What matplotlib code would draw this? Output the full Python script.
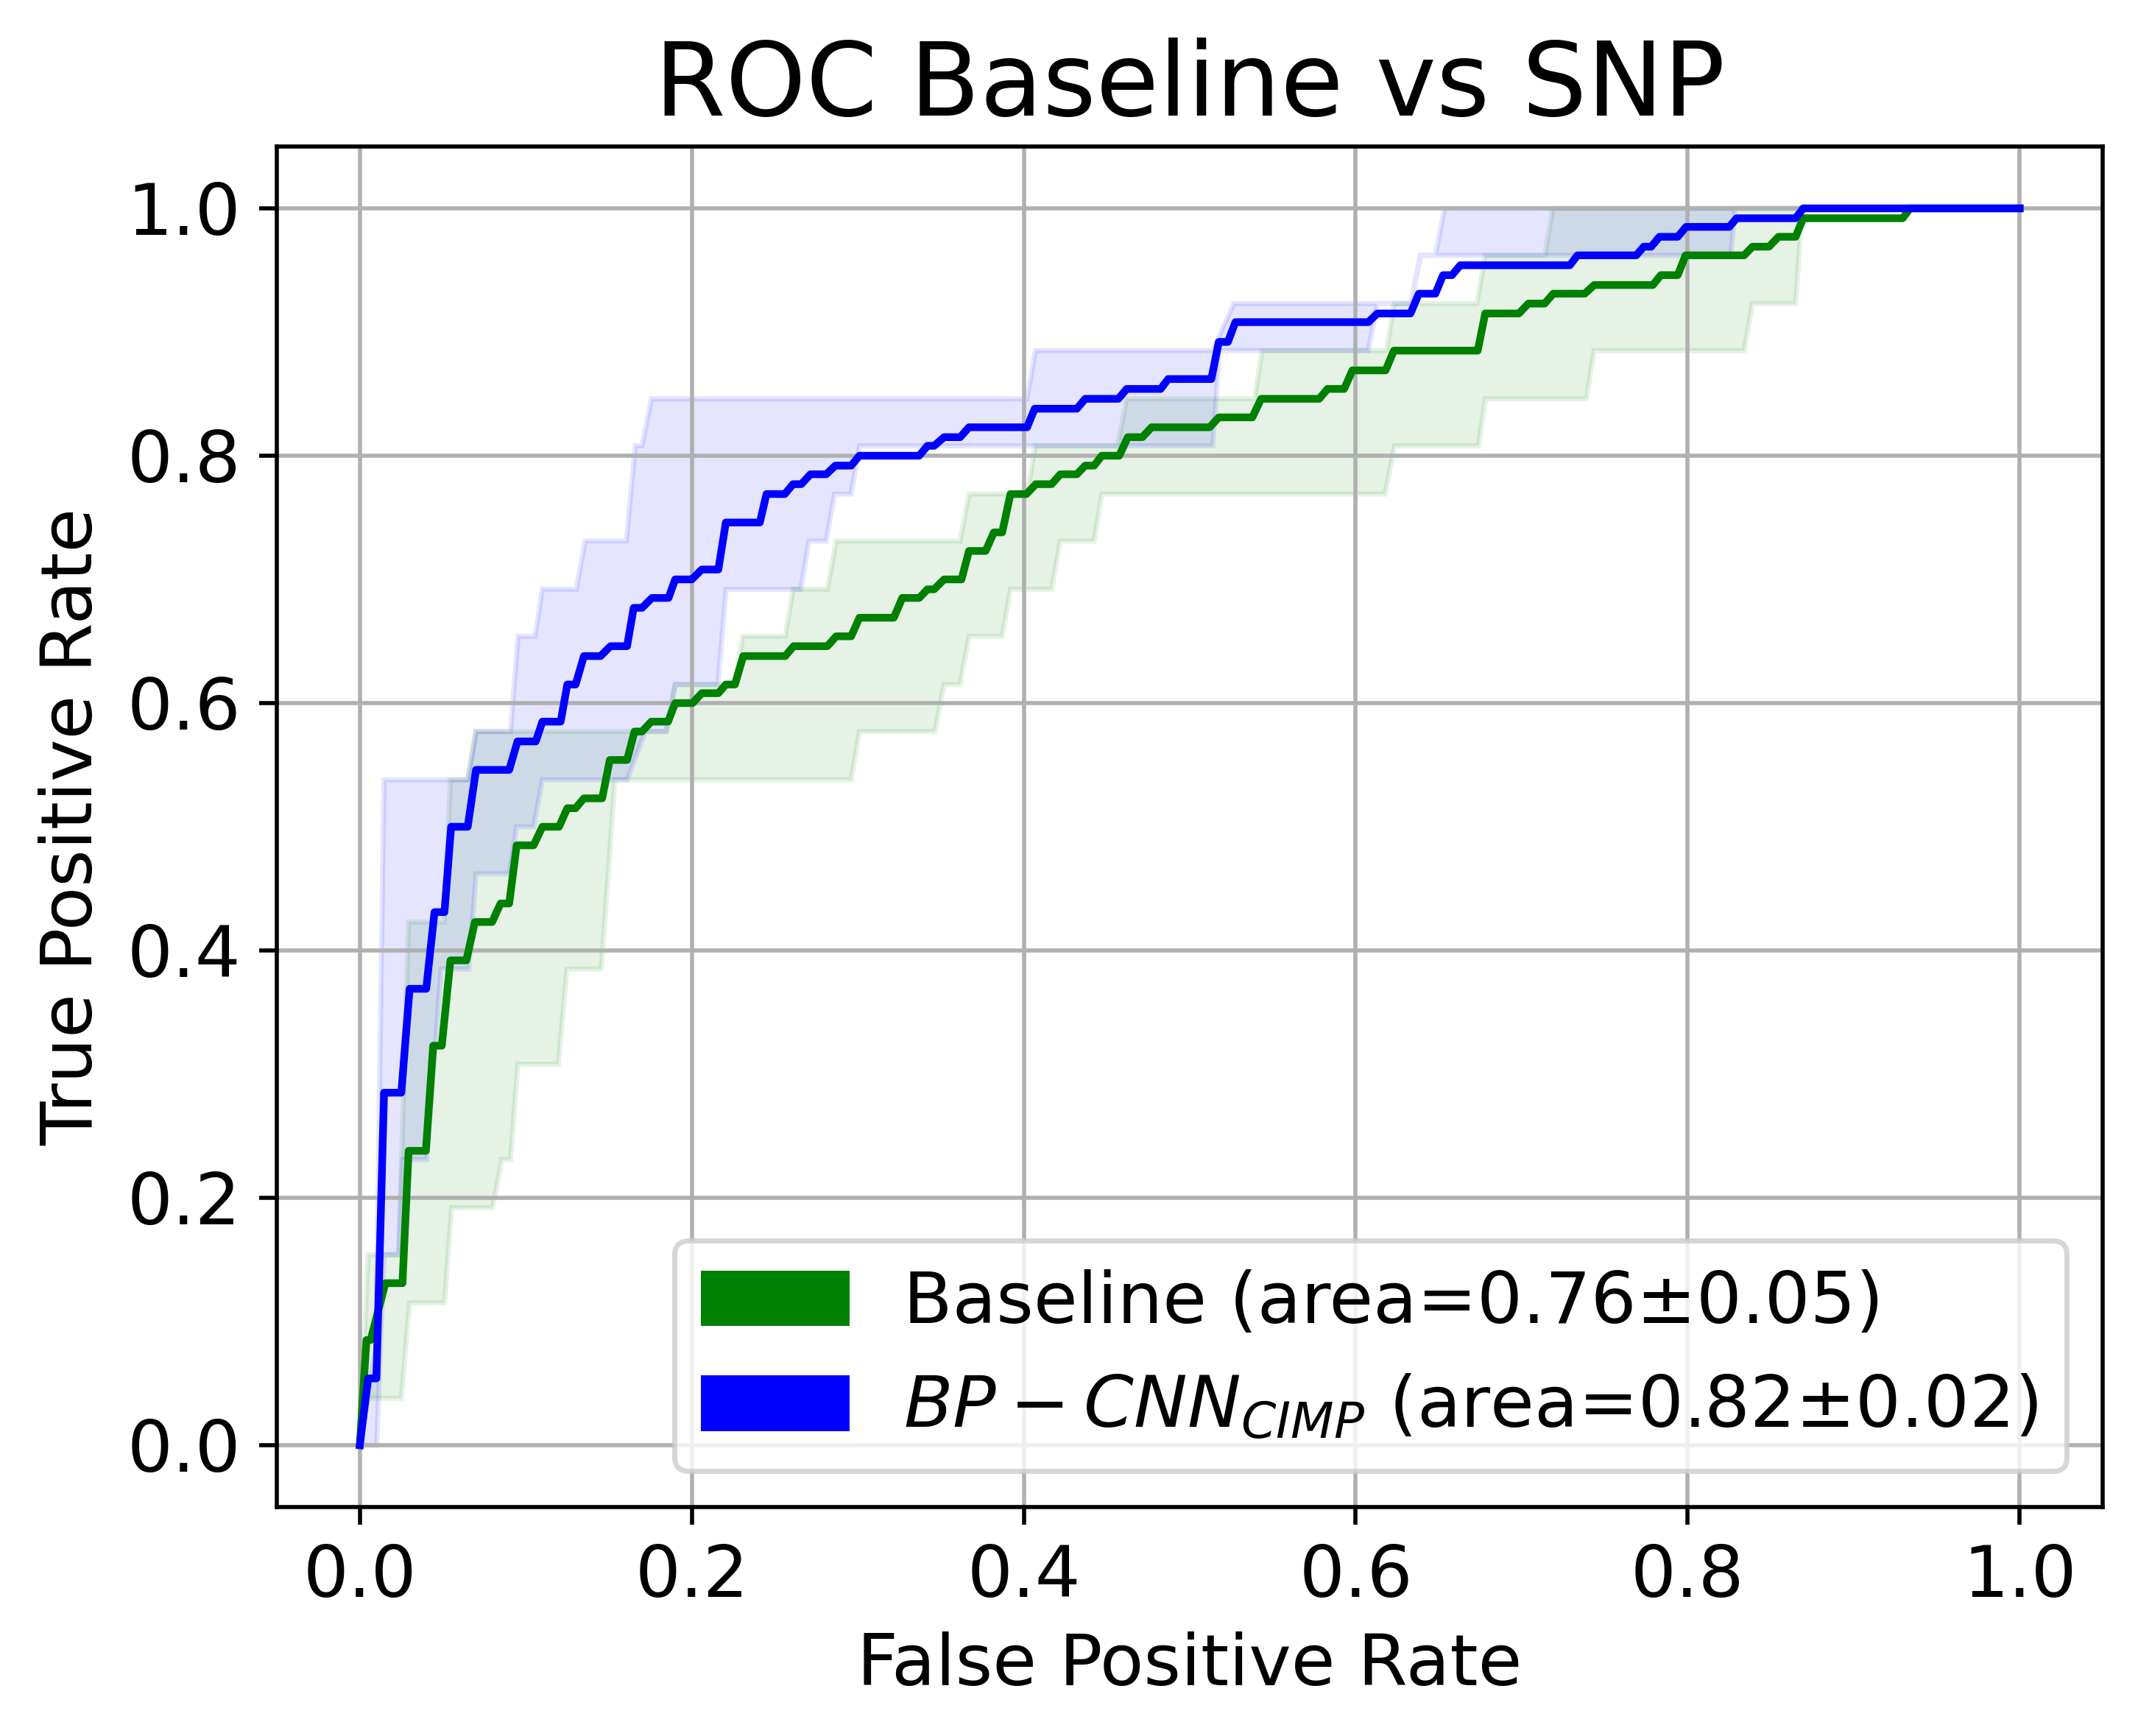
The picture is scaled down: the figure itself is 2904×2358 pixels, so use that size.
import numpy as np
import matplotlib
matplotlib.use("Agg")
import matplotlib.pyplot as plt
import matplotlib.patches as mpatches

# mean ROC, baseline (green)
base_fpr = [0.0, 0.004, 0.0065, 0.0154, 0.0257, 0.0294, 0.0398, 0.0442, 0.0494, 0.0546, 0.0642,
            0.0693, 0.0797, 0.0848, 0.090, 0.0945, 0.1047, 0.110, 0.120, 0.125, 0.130, 0.135,
            0.146, 0.1506, 0.161, 0.1655, 0.170, 0.1756, 0.1857, 0.190, 0.2005, 0.206, 0.216,
            0.2205, 0.226, 0.231, 0.2563, 0.2613, 0.2817, 0.287, 0.296, 0.301, 0.3217, 0.3268,
            0.337, 0.342, 0.346, 0.352, 0.3625, 0.367, 0.377, 0.382, 0.387, 0.392, 0.4016,
            0.4073, 0.4168, 0.422, 0.432, 0.437, 0.4424, 0.447, 0.4575, 0.4627, 0.4715, 0.477,
            0.512, 0.5175, 0.5377, 0.543, 0.578, 0.583, 0.593, 0.598, 0.618, 0.623, 0.6735,
            0.678, 0.6983, 0.704, 0.7138, 0.719, 0.738, 0.7436, 0.779, 0.7838, 0.794, 0.7987,
            0.834, 0.839, 0.849, 0.8547, 0.865, 0.8696, 0.9295, 0.934, 1.0]
base_tpr = [0.0, 0.085, 0.085, 0.131, 0.131, 0.238, 0.238, 0.323, 0.323, 0.392, 0.392,
            0.423, 0.423, 0.438, 0.438, 0.485, 0.485, 0.500, 0.500, 0.515, 0.515, 0.523,
            0.523, 0.554, 0.554, 0.577, 0.577, 0.585, 0.585, 0.600, 0.600, 0.608, 0.608,
            0.615, 0.615, 0.638, 0.638, 0.646, 0.646, 0.654, 0.654, 0.669, 0.669, 0.685,
            0.685, 0.692, 0.692, 0.700, 0.700, 0.723, 0.723, 0.738, 0.738, 0.769, 0.769,
            0.777, 0.777, 0.785, 0.785, 0.792, 0.792, 0.800, 0.800, 0.815, 0.815, 0.823,
            0.823, 0.831, 0.831, 0.846, 0.846, 0.854, 0.854, 0.869, 0.869, 0.885, 0.885,
            0.915, 0.915, 0.923, 0.923, 0.931, 0.931, 0.938, 0.938, 0.946, 0.946, 0.962,
            0.962, 0.969, 0.969, 0.977, 0.977, 0.992, 0.992, 1.0, 1.0]
base_up_fpr = [0.0, 0.005, 0.0235, 0.0294, 0.0509, 0.0546, 0.065, 0.070, 0.1846, 0.190, 0.2257,
               0.2307, 0.2563, 0.261, 0.2817, 0.287, 0.3616, 0.367, 0.402, 0.407, 0.4566, 0.462,
               0.539, 0.5436, 0.6186, 0.623, 0.673, 0.678, 0.714, 0.7187, 1.0]
base_up_tpr = [0.0, 0.154, 0.154, 0.423, 0.423, 0.538, 0.538, 0.577, 0.577, 0.615, 0.615,
               0.654, 0.654, 0.692, 0.692, 0.731, 0.731, 0.769, 0.769, 0.808, 0.808, 0.846,
               0.846, 0.885, 0.885, 0.923, 0.923, 0.962, 0.962, 1.0, 1.0]
base_lo_fpr = [0.0, 0.005, 0.025, 0.030, 0.051, 0.0553, 0.080, 0.0856, 0.0908, 0.0952, 0.1196,
               0.1248, 0.1455, 0.1537, 0.296, 0.301, 0.3465, 0.352, 0.3616, 0.367, 0.387, 0.392,
               0.4168, 0.422, 0.4424, 0.447, 0.6176, 0.6234, 0.674, 0.678, 0.739, 0.7436, 0.834,
               0.839, 0.865, 0.869, 1.0]
base_lo_tpr = [0.0, 0.038, 0.038, 0.115, 0.115, 0.192, 0.192, 0.231, 0.231, 0.308, 0.308,
               0.385, 0.385, 0.538, 0.538, 0.577, 0.577, 0.615, 0.615, 0.654, 0.654, 0.692,
               0.692, 0.731, 0.731, 0.769, 0.769, 0.808, 0.808, 0.846, 0.846, 0.885, 0.885,
               0.923, 0.923, 1.0, 1.0]

# mean ROC, BP-CNN (blue)
snp_fpr = [0.0, 0.005, 0.010, 0.0146, 0.025, 0.030, 0.040, 0.045, 0.051, 0.055, 0.065, 0.070,
           0.090, 0.095, 0.106, 0.110, 0.121, 0.125, 0.130, 0.135, 0.145, 0.151, 0.161, 0.165,
           0.170, 0.176, 0.186, 0.190, 0.200, 0.206, 0.216, 0.2205, 0.241, 0.245, 0.256, 0.261,
           0.266, 0.2715, 0.281, 0.2865, 0.296, 0.301, 0.337, 0.342, 0.346, 0.352, 0.3617,
           0.367, 0.402, 0.4066, 0.432, 0.437, 0.457, 0.462, 0.4825, 0.487, 0.513, 0.5175,
           0.523, 0.5275, 0.6076, 0.613, 0.633, 0.638, 0.648, 0.6526, 0.658, 0.663, 0.729,
           0.7336, 0.769, 0.7735, 0.778, 0.783, 0.794, 0.799, 0.825, 0.8295, 0.865, 0.8696, 1.0]
snp_tpr = [0.0, 0.054, 0.054, 0.285, 0.285, 0.369, 0.369, 0.431, 0.431, 0.500, 0.500, 0.546,
           0.546, 0.569, 0.569, 0.585, 0.585, 0.615, 0.615, 0.638, 0.638, 0.646, 0.646, 0.677,
           0.677, 0.685, 0.685, 0.700, 0.700, 0.708, 0.708, 0.746, 0.746, 0.769, 0.769, 0.777,
           0.777, 0.785, 0.785, 0.792, 0.792, 0.800, 0.800, 0.808, 0.808, 0.815, 0.815,
           0.823, 0.823, 0.838, 0.838, 0.846, 0.846, 0.854, 0.854, 0.862, 0.862, 0.892,
           0.892, 0.908, 0.908, 0.915, 0.915, 0.931, 0.931, 0.946, 0.946, 0.954, 0.954,
           0.962, 0.962, 0.969, 0.969, 0.977, 0.977, 0.985, 0.985, 0.992, 0.992, 1.0, 1.0]
snp_up_fpr = [0.0, 0.0096, 0.0146, 0.065, 0.070, 0.0908, 0.0954, 0.1056, 0.110, 0.1305, 0.1358,
              0.1606, 0.166, 0.170, 0.1757, 0.402, 0.407, 0.5138, 0.5266, 0.6334, 0.6389, 0.648,
              0.6535, 1.0]
snp_up_tpr = [0.0, 0.08, 0.538, 0.538, 0.577, 0.577, 0.654, 0.654, 0.692, 0.692, 0.731,
              0.731, 0.808, 0.808, 0.846, 0.846, 0.885, 0.885, 0.923, 0.923, 0.962, 0.962,
              1.0, 1.0]
snp_lo_fpr = [0.0, 0.0102, 0.0146, 0.0235, 0.0257, 0.0403, 0.049, 0.0657, 0.070, 0.090, 0.0945,
              0.1047, 0.110, 0.161, 0.172, 0.1846, 0.190, 0.2157, 0.2207, 0.2657, 0.2706, 0.281,
              0.286, 0.296, 0.301, 0.5138, 0.518, 0.6076, 0.613, 0.633, 0.639, 0.826, 0.8286, 1.0]
snp_lo_tpr = [0.0, 0.0, 0.154, 0.154, 0.231, 0.231, 0.385, 0.385, 0.462, 0.462, 0.500,
              0.500, 0.538, 0.538, 0.577, 0.577, 0.615, 0.615, 0.692, 0.692, 0.731, 0.731,
              0.769, 0.769, 0.808, 0.808, 0.885, 0.885, 0.923, 0.923, 0.962, 0.962, 1.0, 1.0]

labels = ['Baseline (area=0.76±0.05)', r'$BP-CNN_{CIMP}$ (area=0.82±0.02)']
colors = ['green', 'blue']

plt.rcParams['font.size'] = 14

fig = plt.figure(figsize=(2904 / 500, 2358 / 500), dpi=500)
ax = fig.add_axes([376 / 2904, 311 / 2358, 2480 / 2904, 1848 / 2358])

# std bands
def band(up_x, up_y, lo_x, lo_y, c):
    xs = np.concatenate([up_x, np.asarray(lo_x)[::-1]])
    ys = np.concatenate([up_y, np.asarray(lo_y)[::-1]])
    ax.fill(xs, ys, facecolor=c, edgecolor=c, alpha=0.1, lw=1)

band(base_up_fpr, base_up_tpr, base_lo_fpr, base_lo_tpr, colors[0])
band(snp_up_fpr, snp_up_tpr, snp_lo_fpr, snp_lo_tpr, colors[1])

ax.plot(base_fpr, base_tpr, color=colors[0], lw=1.5)
ax.plot(snp_fpr, snp_tpr, color=colors[1], lw=1.5)

ax.grid(True)
ax.set_xlabel('False Positive Rate')
ax.set_ylabel('True Positive Rate')
ax.set_title('ROC Baseline vs SNP', fontsize=20)

handles = [mpatches.Patch(color=c, label=l) for c, l in zip(colors, labels)]
ax.legend(handles=handles, loc='lower right')

fig.savefig('out.png', dpi=500)
